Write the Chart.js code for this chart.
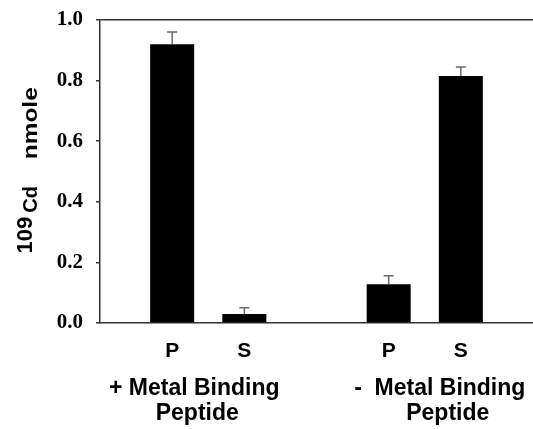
<!DOCTYPE html>
<html>
<head>
<meta charset="utf-8">
<script src="https://cdn.jsdelivr.net/npm/chart.js@4/dist/chart.umd.min.js"></script>
<style>
  html, body { margin: 0; padding: 0; background: #fff; }
  #wrap { width: 533px; height: 429px; position: relative; }
</style>
</head>
<body>
<div id="wrap"><canvas id="c" width="533" height="429"></canvas></div>
<script>
// ---- data ----
const categories = ['', 'P', 'S', '', 'P', 'S', ''];
const values     = [null, 0.92, 0.03, null, 0.128, 0.815, null];
const errors     = [null, 0.04, 0.02, null, 0.028, 0.03, null];
const yTicks     = [0.0, 0.2, 0.4, 0.6, 0.8, 1.0];
const groupLabels = [
  ['+ Metal Binding', 'Peptide'],
  ['-  Metal Binding', 'Peptide']
];
const groupMembers = [[1, 2], [4, 5]];
const yTitleParts = ['109', 'Cd', 'nmole'];

// ---- layout/style ----
const groupLineOffsets = [[-14, -11], [15, 23]];
const axisColor = '#333';
const groupFont = 'bold 23px "Liberation Sans", Arial, sans-serif';

const errorBarPlugin = {
  id: 'errorBars',
  afterDatasetsDraw(chart) {
    const ctx = chart.ctx;
    const xs = chart.scales.x, ys = chart.scales.y;
    ctx.save();
    ctx.strokeStyle = '#6a6a6a';
    ctx.lineWidth = 1.5;
    values.forEach((v, i) => {
      if (v == null || errors[i] == null) return;
      const x = xs.getPixelForValue(i);
      const y0 = ys.getPixelForValue(v);
      const y1 = ys.getPixelForValue(v + errors[i]);
      ctx.beginPath();
      ctx.moveTo(x, y0);
      ctx.lineTo(x, y1);
      ctx.moveTo(x - 5, y1);
      ctx.lineTo(x + 5, y1);
      ctx.stroke();
    });
    ctx.restore();
  }
};

const labelsPlugin = {
  id: 'extraLabels',
  afterDraw(chart) {
    const ctx = chart.ctx;
    const xs = chart.scales.x;
    const area = chart.chartArea;
    ctx.save();
    ctx.fillStyle = '#000';
    ctx.font = groupFont;
    ctx.textAlign = 'center';
    ctx.textBaseline = 'alphabetic';
    groupLabels.forEach((lines, g) => {
      const [a, b] = groupMembers[g];
      const cx = (xs.getPixelForValue(a) + xs.getPixelForValue(b)) / 2;
      lines.forEach((t, li) => {
        ctx.fillText(t, cx + groupLineOffsets[g][li], area.bottom + 72 + li * 25);
      });
    });
    // y-axis title, rotated
    const cy = (area.top + area.bottom) / 2;
    ctx.translate(37, cy + 82);
    ctx.rotate(-Math.PI / 2);
    ctx.textAlign = 'left';
    ctx.font = 'bold 22px "Liberation Sans", Arial, sans-serif';
    let x = 0;
    ctx.fillText(yTitleParts[0], x, -5);
    x += ctx.measureText(yTitleParts[0]).width + 4;
    ctx.font = 'bold 20px "Liberation Sans", Arial, sans-serif';
    ctx.fillText(yTitleParts[1], x, 0);
    x += ctx.measureText(yTitleParts[1]).width + 27;
    ctx.save();
    ctx.scale(1.22, 1);
    ctx.fillText(yTitleParts[2], x / 1.22, 0);
    ctx.restore();
    ctx.restore();
  }
};

new Chart(document.getElementById('c'), {
  type: 'bar',
  data: {
    labels: categories,
    datasets: [{
      data: values,
      backgroundColor: '#000',
      borderWidth: 0,
      barPercentage: 0.61,
      categoryPercentage: 1.0
    }]
  },
  options: {
    responsive: false,
    animation: false,
    devicePixelRatio: 1,
    layout: { padding: { top: 20, right: 0, left: 0, bottom: 0 } },
    plugins: { legend: { display: false }, tooltip: { enabled: false } },
    scales: {
      x: {
        type: 'category',
        offset: false,
        grid: { display: true, drawOnChartArea: false, drawTicks: false, color: 'rgba(0,0,0,0)' },
        border: { display: true, color: axisColor, width: 1.5 },
        ticks: {
          padding: 16,
          color: '#000',
          autoSkip: false,
          maxRotation: 0,
          font: { family: '"Liberation Sans", Arial, sans-serif', weight: 'bold', size: 21 }
        },
        afterFit(scale) {
          scale.height = 106;
          scale.paddingLeft = 0; scale.paddingRight = 0;
          scale.paddingTop = 0; scale.paddingBottom = 0;
        }
      },
      y: {
        min: 0,
        max: 1,
        afterBuildTicks(scale) { scale.ticks = yTicks.map(v => ({ value: v })); },
        grid: {
          drawOnChartArea: true,
          drawTicks: true,
          tickLength: 4,
          tickColor: axisColor,
          lineWidth: 1.5,
          color: (c) => (c.tick && c.tick.value === 1 ? axisColor : 'rgba(0,0,0,0)')
        },
        border: { display: true, color: axisColor, width: 1.5 },
        ticks: {
          padding: 13,
          color: '#000',
          font: { family: '"Liberation Serif", "Times New Roman", serif', weight: 'bold', size: 21 },
          callback: (v) => Number(v).toFixed(1)
        },
        afterFit(scale) {
          scale.width = 100;
          scale.paddingLeft = 0; scale.paddingRight = 0;
          scale.paddingTop = 0; scale.paddingBottom = 0;
        }
      }
    }
  },
  plugins: [errorBarPlugin, labelsPlugin]
});
</script>
</body>
</html>
